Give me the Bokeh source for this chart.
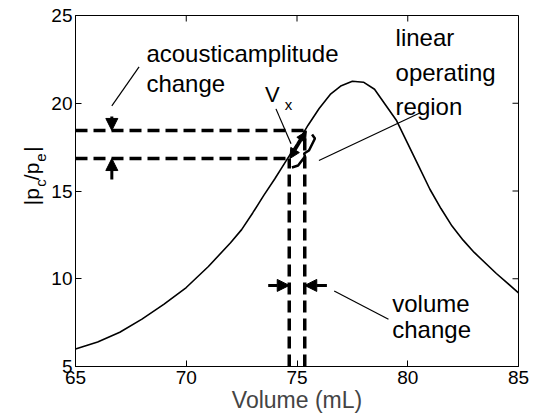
import math
from bokeh.plotting import figure
from bokeh.layouts import row
from bokeh.models import Range1d, Label, Arrow, NormalHead, FixedTicker
from bokeh.embed import file_html
from bokeh.resources import INLINE

# ---- data ----
volume = [65, 66, 67, 68, 69, 70, 71, 72, 72.5, 73, 73.5, 74, 74.5, 75, 75.5, 76, 76.5,
          77, 77.5, 78, 78.5, 79, 79.5, 80, 80.5, 81, 81.5, 82, 82.5, 83, 84, 85]
ratio = [6.0, 6.4, 6.95, 7.7, 8.55, 9.5, 10.7, 12.05, 12.8, 13.75, 14.75, 15.7, 16.7, 17.7, 18.75,
         19.7, 20.5, 21.0, 21.25, 21.2, 20.8, 19.9, 19.0, 17.7, 16.4, 15.1, 14.0, 13.0, 12.2,
         11.5, 10.3, 9.2]
x_ticks = [65, 70, 75, 80, 85]
y_ticks = [5, 10, 15, 20, 25]

# operating point annotation values
vol_low, vol_high = 74.65, 75.35
amp_low, amp_high = 16.85, 18.45

FONT = "Liberation Sans"
X0, X1, Y0, Y1 = 65, 85, 5, 25
FRAME_W, FRAME_H = 444, 351
TICK_PX = 6
STRIP_W = 48

# ---- left strip holding the rotated y-axis label ----
lp = figure(width=STRIP_W, height=420, output_backend="svg", toolbar_location=None,
            x_range=Range1d(0, STRIP_W), y_range=Range1d(420, 0),
            min_border=0, outline_line_color=None)
lp.axis.visible = False
lp.grid.visible = False

ang = math.pi / 2

def ylab(x, y, text, size):
    lp.add_layout(Label(x=x, y=y, text=text, text_font=FONT, text_font_size=size,
                        text_color="black", text_align="left", text_baseline="alphabetic",
                        angle=ang))

ylab(31, 227, "|p", "21px")
ylab(40, 205, "c", "15px")
ylab(31, 197, "/p", "21px")
ylab(40, 175, "e", "15px")
ylab(31, 163, "|", "21px")

# ---- main plot ----
p = figure(width=535 - STRIP_W, height=420, output_backend="svg", toolbar_location=None,
           x_range=Range1d(X0, X1), y_range=Range1d(Y0, Y1),
           min_border_left=74 - STRIP_W, min_border_right=17, min_border_top=15,
           min_border_bottom=54)
p.xgrid.visible = False
p.ygrid.visible = False
p.outline_line_color = "black"

for ax in (p.xaxis[0], p.yaxis[0]):
    ax.major_tick_in = TICK_PX
    ax.major_tick_out = 0
    ax.minor_tick_line_color = None
    ax.axis_line_color = "black"
    ax.major_tick_line_color = "black"
    ax.major_label_text_font = FONT
    ax.major_label_text_color = "black"
    ax.major_label_text_font_size = "19px"
p.xaxis.ticker = FixedTicker(ticks=x_ticks)
p.yaxis.ticker = FixedTicker(ticks=y_ticks)
p.xaxis.major_label_standoff = 4
p.yaxis.major_label_standoff = 3
p.xaxis.axis_label = "Volume (mL)"
p.xaxis.axis_label_text_font = FONT
p.xaxis.axis_label_text_font_size = "23px"
p.xaxis.axis_label_text_font_style = "normal"
p.xaxis.axis_label_standoff = 0

# inward ticks on the top and right edges of the box
dx = TICK_PX * (X1 - X0) / FRAME_W
dy = TICK_PX * (Y1 - Y0) / FRAME_H
p.segment(x0=x_ticks, y0=[Y1] * len(x_ticks), x1=x_ticks, y1=[Y1 - dy] * len(x_ticks),
          line_color="black", line_width=1)
p.segment(x0=[X1] * len(y_ticks), y0=y_ticks, x1=[X1 - dx] * len(y_ticks), y1=y_ticks,
          line_color="black", line_width=1)

# curve
p.line(volume, ratio, line_color="black", line_width=1.6)

# dashed guide lines
p.multi_line([[X0, vol_low], [X0, vol_high], [vol_low, vol_low], [vol_high, vol_high]],
             [[amp_low, amp_low], [amp_high, amp_high], [Y0, amp_low], [Y0, amp_high]],
             line_color="black", line_width=3.5, line_dash="12 6")

# thin leader lines
p.multi_line([[66.64, 67.87], [74.05, 74.73], [75.99, 80.59], [76.68, 79.13]],
             [[19.85, 22.07], [19.68, 17.69], [16.74, 19.47], [9.3, 7.69]],
             line_color="black", line_width=1.2)

# brace of linear operating region
p.line([75.68, 75.81, 75.54, 75.32, 75.36, 75.05, 74.77],
       [18.22, 17.99, 17.31, 17.14, 16.97, 16.45, 16.34],
       line_color="black", line_width=2.5)

def arrow(xs, ys, xe, ye, both=False, size=12):
    kw = dict(x_start=xs, y_start=ys, x_end=xe, y_end=ye, line_color="black", line_width=3,
              end=NormalHead(size=size, fill_color="black", line_color="black", line_width=1))
    kw["start"] = (NormalHead(size=size, fill_color="black", line_color="black", line_width=1)
                   if both else None)
    p.add_layout(Arrow(**kw))

arrow(66.64, 19.25, 66.64, amp_high)
arrow(66.64, 15.65, 66.64, amp_low)
arrow(73.7, 9.62, vol_low, 9.62)
arrow(76.35, 9.62, vol_high, 9.62)
arrow(74.68, 16.85, 75.42, 18.4, both=True, size=10)

def label(x, y, text, size="24px"):
    p.add_layout(Label(x=x, y=y, text=text, text_font=FONT, text_font_size=size,
                       text_color="black", text_align="left", text_baseline="alphabetic"))

label(68.2, 22.85, "acousticamplitude")
label(68.2, 21.1, "change")
label(79.45, 23.75, "linear")
label(79.45, 21.75, "operating")
label(79.45, 19.8, "region")
label(79.3, 8.6, "volume")
label(79.3, 7.1, "change")
label(73.55, 20.5, "V", size="22px")
label(74.45, 19.95, "x", size="15px")

layout = row(lp, p)
open("out.html", "w").write(file_html(layout, INLINE))
